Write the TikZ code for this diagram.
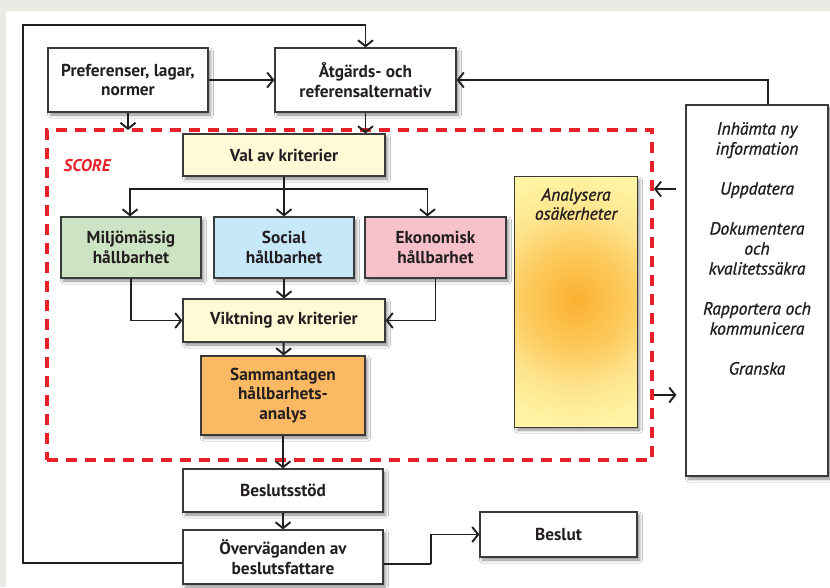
\documentclass[tikz,border=0pt]{standalone}
\usepackage{fontspec}
\setmainfont{PT Sans}
\newfontfamily\itfont{PT Sans}[FakeBold=1.2]
\usetikzlibrary{arrows.meta,shadows.blur,calc}
\definecolor{ink}{HTML}{231F20}
\definecolor{boxline}{HTML}{3A3A3A}
\definecolor{bgc}{HTML}{EBEBE6}
\definecolor{paleylw}{HTML}{FFF9D6}
\definecolor{grn}{HTML}{CDE4C4}
\definecolor{blu}{HTML}{C6E8F8}
\definecolor{pnk}{HTML}{F7C1CA}
\definecolor{orng}{HTML}{FBB964}
\definecolor{scorered}{HTML}{E8202A}
\definecolor{ylw}{HTML}{FFF5A4}
\definecolor{ylwmid}{HTML}{FEE48E}
\definecolor{ylwor}{HTML}{FCCB5E}
\definecolor{ylwcore}{HTML}{FBB030}
\pgfdeclareradialshading{analshade}{\pgfpoint{0bp}{0bp}}{color(0bp)=(ylwcore); color(4.3bp)=(ylwor); color(7.3bp)=(ylwmid); color(10.6bp)=(ylw); color(50bp)=(ylw)}
\tikzset{
  box/.style={draw=boxline, line width=1.2pt, align=center, inner sep=0pt,
    font=\bfseries\fontsize{17.3}{19.5}\selectfont, text=ink,
    blur shadow={shadow xshift=2.5pt, shadow yshift=-3pt, shadow blur radius=3pt, shadow opacity=45}},
  arr/.style={draw=ink, line width=1.9pt, -{Straight Barb[length=6pt,width=15pt]}},
  conn/.style={draw=ink, line width=1.9pt},
  itxt/.style={align=center, inner sep=0pt, text=ink, font=\itfont\itshape\fontsize{17.5}{20}\selectfont}
}
\begin{document}
\begin{tikzpicture}[x=1pt,y=-1pt]
\useasboundingbox (0,0) rectangle (830,587);
\fill[bgc] (0,0) rectangle (830,587);
\fill[white] (6,11) rectangle (830,587);

% SCORE frame
\node[draw=scorered, line width=3.8pt, dash pattern=on 11pt off 8pt, minimum width=605pt, minimum height=330pt, inner sep=0pt] (score) at (349.5,295) {};
\node[text=scorered, font=\bfseries\itshape\fontsize{17}{19}\selectfont, inner sep=0pt] (scorelbl) at (87,166) {SCORE};

% boxes
\node[box, fill=white, minimum width=160pt, minimum height=64pt] (pref) at (128,80) {Preferenser, lagar,\\ normer};
\node[box, fill=white, minimum width=181pt, minimum height=64pt] (atg) at (365.5,80) {Åtgärds- och\\ referensalternativ};
\node[box, fill=paleylw, minimum width=202pt, minimum height=42pt] (val) at (284,155) {Val av kriterier};
\node[box, fill=grn, minimum width=140pt, minimum height=61pt] (milj) at (131,247.5) {Miljömässig\\ hållbarhet};
\node[box, fill=blu, minimum width=140pt, minimum height=61pt] (soc) at (284,247.5) {Social\\ hållbarhet};
\node[box, fill=pnk, minimum width=141pt, minimum height=61pt] (eko) at (435.5,247.5) {Ekonomisk\\ hållbarhet};
\node[box, fill=paleylw, minimum width=202pt, minimum height=43pt] (vikt) at (284,320.5) {Viktning av kriterier};
\node[box, fill=orng, minimum width=164pt, minimum height=79pt] (samm) at (283,395.5) {Sammantagen\\ hållbarhets-\\ analys};
\node[box, fill=white, minimum width=200pt, minimum height=43pt] (bst) at (283,490.5) {Beslutsstöd};
\node[box, fill=white, minimum width=200pt, minimum height=54pt] (overv) at (283,557) {Överväganden av\\ beslutsfattare};
\node[box, fill=white, minimum width=157pt, minimum height=45pt] (beslut) at (558.5,534.5) {Beslut};
\node[box, fill=white, minimum width=142pt, minimum height=371pt] (right) at (757,290.5) {};
\node[itxt, anchor=north] (info) at (757,122) {Inhämta ny\\ information\\[20pt] Uppdatera\\[20pt] Dokumentera\\ och\\ kvalitetssäkra\\[20pt] Rapportera och\\ kommunicera\\[20pt] Granska};

% Analysera box with radial gradient
\node[box, fill=ylw, minimum width=122pt, minimum height=250pt] (anal) at (576,302) {};
\begin{scope}
  \clip (anal.north west) rectangle (anal.south east);
  \shade[shading=analshade] (576,300) circle (300pt);
\end{scope}
\draw[boxline, line width=1.2pt] (anal.north west) rectangle (anal.south east);
\node[itxt, anchor=north, font=\itfont\itshape\fontsize{17.5}{19}\selectfont] (analtxt) at (576,188) {Analysera\\ osäkerheter};

% connectors
\coordinate (tl) at (23,25);
\coordinate (br) at (284,189);
\coordinate (jn) at (431,564);
\draw[arr] (pref) -- (atg);
\draw[arr] (pref.south) -- (pref.south |- 0,130);
\draw[arr] (atg.south) -- (atg.south |- val.north);
\draw[arr] ([yshift=-6pt]overv.west) -| (tl) -| (atg.north);
\draw[arr] ([xshift=11pt]right.north) |- (atg.east);
\draw[arr] (val) -- (soc);
\draw[arr] (br) -| ([xshift=-1pt]milj.north);
\draw[arr] (br) -| ([xshift=-8pt]eko.north);
\draw[arr] (milj.south) |- (vikt.west);
\draw[arr] (eko.south) |- (vikt.east);
\draw[arr] (soc) -- (vikt);
\draw[arr] (vikt) -- (samm);
\draw[arr] (samm) -- (bst);
\draw[arr] (bst) -- (overv);
\draw[conn] ([yshift=-7pt]overv.east) -- (jn);
\draw[arr] (jn) |- (beslut.west);
\draw[arr, shorten <=9pt] (right.west |- 0,189) -- (score.east |- 0,189);
\draw[arr, shorten >=9pt] (score.east |- 0,395) -- (right.west |- 0,395);
\end{tikzpicture}
\end{document}
